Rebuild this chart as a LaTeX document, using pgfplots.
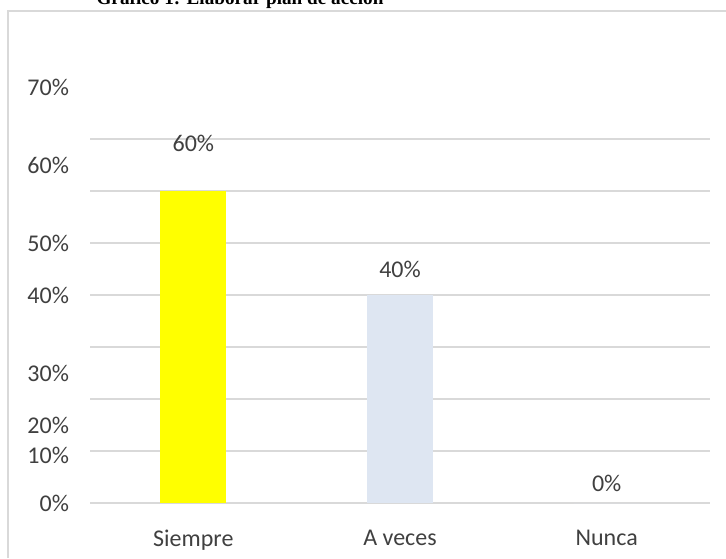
\documentclass[border=0pt]{standalone}
\usepackage{pgfplots}
\pgfplotsset{compat=1.18}
\usepackage{fontspec}
\setmainfont{Carlito}
\newfontfamily\titlefont{Liberation Serif}
\definecolor{txt}{HTML}{404040}
\definecolor{gridc}{HTML}{D9D9D9}
\definecolor{barY}{HTML}{FFFF00}
\definecolor{barB}{HTML}{DEE6F2}
\begin{document}
\begin{tikzpicture}[x=1pt,y=1pt]
\useasboundingbox (0,0) rectangle (363,279);
\draw[gridc, line width=0.8pt] (4,0) -- (4,273.5) -- (363,273.5);
\node[anchor=base, font=\titlefont\bfseries\fontsize{9.6}{11}\selectfont, text=black] at (120,276.5) {Gráfico 1: Elaborar plan de acción};
\begin{axis}[
 at={(45pt,24.9pt)}, anchor=south west,
 scale only axis, width=310pt, height=213.2pt,
 xmin=-0.5, xmax=2.5, ymin=-1, ymax=81,
 axis line style={draw=none},
 xtick={0,1,2}, xticklabels={Siempre, A veces, Nunca},
 ytick={0,9.2,15,25,40,50,65,80},
 yticklabels={0\%,10\%,20\%,30\%,40\%,50\%,60\%,70\%},
 major tick length=0pt,
 extra y ticks={0,10,20,30,40,50,60,70},
 extra y tick labels={},
 extra y tick style={grid=major, major grid style={gridc, line width=0.8pt}},
 ticklabel style={font=\fontsize{12}{14}\selectfont, text=txt},
 xticklabel style={yshift=-7.5pt},
 yticklabel style={xshift=-7pt},
 /pgf/number format/assume math mode=true,
 clip=false,
]
\addplot[ybar, bar shift=0pt, bar width=33pt, fill=barY, draw=none] coordinates {(0,60)};
\addplot[ybar, bar shift=0pt, bar width=33pt, fill=barB, draw=none] coordinates {(1,40)};
\addplot[ybar, bar shift=0pt, bar width=33pt, fill=barB, draw=none] coordinates {(2,0)};
\addplot[draw=none, mark=none, nodes near coords, point meta=explicit symbolic,
  nodes near coords style={anchor=center, font=\fontsize{12}{14}\selectfont, text=txt}]
  coordinates {(0,69.2) [60\%] (1,45) [40\%] (2,3.85) [0\%]};
\end{axis}
\end{tikzpicture}
\end{document}
